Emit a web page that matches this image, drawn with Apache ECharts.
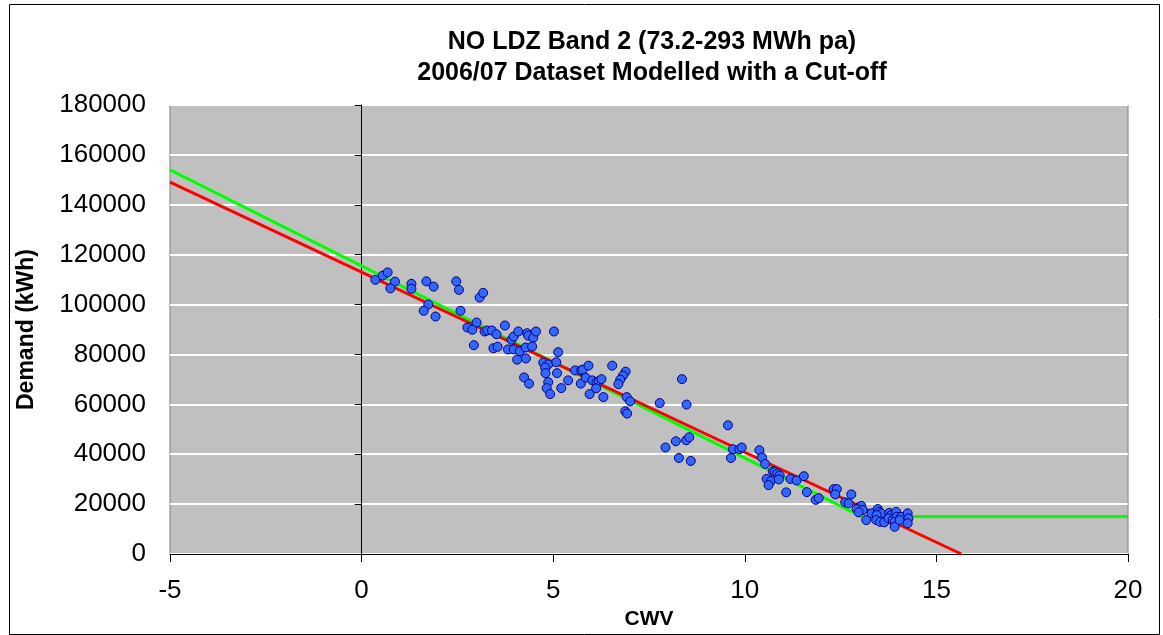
<!DOCTYPE html>
<html>
<head>
<meta charset="utf-8">
<script src="https://cdn.jsdelivr.net/npm/echarts@6/dist/echarts.min.js"></script>
<style>
html,body{margin:0;padding:0;background:#fff;}
#chart{width:1163px;height:635px;}
</style>
</head>
<body>
<div id="chart"></div>
<script>
// Observed demand points (CWV, Demand kWh)
const cwv = [0.36,0.55,0.68,0.87,0.75,1.30,1.30,1.69,1.88,1.74,1.62,1.93,2.47,2.54,3.08,3.17,2.58,3.00,2.76,2.89,
  2.93,3.21,3.28,3.40,3.52,3.74,3.44,3.55,3.82,3.97,3.91,3.97,4.09,4.13,4.28,4.32,4.35,4.48,4.55,4.45,
  4.06,4.29,4.24,4.37,5.02,4.74,4.87,4.79,4.80,4.87,4.83,4.92,5.10,5.08,5.13,5.21,5.39,5.57,5.73,5.77,
  5.72,5.85,5.92,6.02,6.13,6.19,6.26,6.12,5.95,6.31,6.54,6.89,6.82,6.75,6.70,6.92,7.01,6.88,6.93,7.78,
  8.36,8.48,9.56,7.93,8.20,8.47,8.55,8.28,8.59,9.69,9.86,9.92,9.64,10.38,10.45,10.53,10.73,10.78,10.85,10.91,
  10.57,10.68,10.62,10.89,11.19,11.35,11.54,11.08,11.62,11.85,11.93,12.32,12.40,12.36,12.78,12.62,12.71,12.99,13.04,12.92,
  13.08,12.97,13.17,13.31,13.47,13.51,13.56,13.44,13.43,13.53,13.64,13.77,13.82,13.75,13.86,13.95,13.96,13.91,13.91,14.08,
  14.04,14.25,14.27,14.25];
const demand = [109900,111600,112900,109200,106500,108300,106300,109300,107200,100000,97500,95200,109300,105900,102800,104700,97500,92800,90800,89900,
  83700,89200,89600,89600,88100,91600,82500,83100,82000,82000,85900,87200,89200,81300,82800,88500,87500,86700,89200,83200,
  77900,78400,70800,68300,89200,76700,76000,74700,72500,68900,66500,64100,72500,76900,80900,66500,69600,73600,73600,73900,
  68300,70700,75500,69600,68800,69300,70100,66400,64100,62900,75500,73100,71500,69900,68100,62900,61200,57200,56300,60500,
  70100,59900,51600,42700,45200,45600,46800,38500,37300,42000,42000,42700,38500,41600,38700,36100,33200,32900,32300,31500,
  30100,29200,27600,29900,30100,29500,31200,24700,24800,21700,22400,26000,26000,23900,23900,20700,20300,18900,19300,18000,
  17600,16700,13600,16300,18000,16900,16300,15600,13600,12900,12700,16500,15600,14300,13600,16900,14900,12900,10900,14900,
  13600,16300,14300,12300];
// Model lines (CWV, Demand)
const redLineX = [-5, 15.65];
const redLineY = [149100, 0];
const greenLineX = [-5, 13.05, 20];
const greenLineY = [154000, 15000, 15000];
// Axis ticks
const xTicks = [-5, 0, 5, 10, 15, 20];
const yTicks = [0, 20000, 40000, 60000, 80000, 100000, 120000, 140000, 160000, 180000];

const font = '"Liberation Sans", Arial, sans-serif';
const zip = (a, b) => a.map((v, i) => [v, b[i]]);

const chart = echarts.init(document.getElementById('chart'));
chart.setOption({
  animation: false,
  backgroundColor: '#ffffff',
  title: {
    text: 'NO LDZ Band 2 (73.2-293 MWh pa)\n2006/07 Dataset Modelled with a Cut-off',
    left: 647, top: 22, textAlign: 'center',
    textStyle: {fontFamily: font, fontSize: 25, fontWeight: 'bold', color: '#000', lineHeight: 31}
  },
  graphic: [{
    type: 'rect', left: 7, top: 2, z: 100, silent: true,
    shape: {width: 1150, height: 630},
    style: {fill: 'none', stroke: '#000', lineWidth: 1}
  }],
  grid: {left: 170, right: 35, top: 105, bottom: 81, show: true,
    backgroundColor: '#c0c0c0', borderColor: '#808080', borderWidth: 1},
  xAxis: {
    type: 'value', min: xTicks[0], max: xTicks[xTicks.length - 1], interval: 5,
    name: 'CWV', nameLocation: 'middle', nameGap: 55,
    nameTextStyle: {fontFamily: font, fontSize: 21, fontWeight: 'bold', color: '#000'},
    axisLine: {show: true, onZero: false, lineStyle: {color: '#000', width: 1}},
    axisTick: {show: true, length: 8, lineStyle: {color: '#000'}},
    axisLabel: {fontFamily: font, fontSize: 26, color: '#000', margin: 24},
    splitLine: {show: false}
  },
  yAxis: [{
    type: 'value', min: yTicks[0], max: yTicks[yTicks.length - 1], interval: 20000,
    name: 'Demand (kWh)', nameLocation: 'middle', nameGap: 132,
    nameTextStyle: {fontFamily: font, fontSize: 23, fontWeight: 'bold', color: '#000'},
    axisLine: {show: false, onZero: false},
    axisTick: {show: false},
    axisLabel: {fontFamily: font, fontSize: 26, color: '#000', margin: 24,
      formatter: v => String(v)},
    splitLine: {show: true, lineStyle: {color: '#ffffff', width: 2}}
  }, {
    type: 'value', min: yTicks[0], max: yTicks[yTicks.length - 1], interval: 20000,
    position: 'left',
    axisLine: {show: true, onZero: true, lineStyle: {color: '#000', width: 1}},
    axisTick: {show: true, length: 7, lineStyle: {color: '#000'}},
    axisLabel: {show: false},
    splitLine: {show: false}
  }],
  series: [{
    type: 'line', name: 'Cut-off model', yAxisIndex: 0,
    data: zip(greenLineX, greenLineY), symbol: 'none',
    lineStyle: {color: '#00ff00', width: 3}, z: 2
  }, {
    type: 'line', name: 'Linear model', yAxisIndex: 0,
    data: zip(redLineX, redLineY), symbol: 'none',
    lineStyle: {color: '#ff0000', width: 3}, z: 3
  }, {
    type: 'scatter', name: 'Demand', yAxisIndex: 0,
    data: zip(cwv, demand), symbol: 'circle', symbolSize: 9,
    itemStyle: {color: '#3366ff', borderColor: '#000080', borderWidth: 1, opacity: 1}, z: 4
  }]
});
</script>
</body>
</html>
